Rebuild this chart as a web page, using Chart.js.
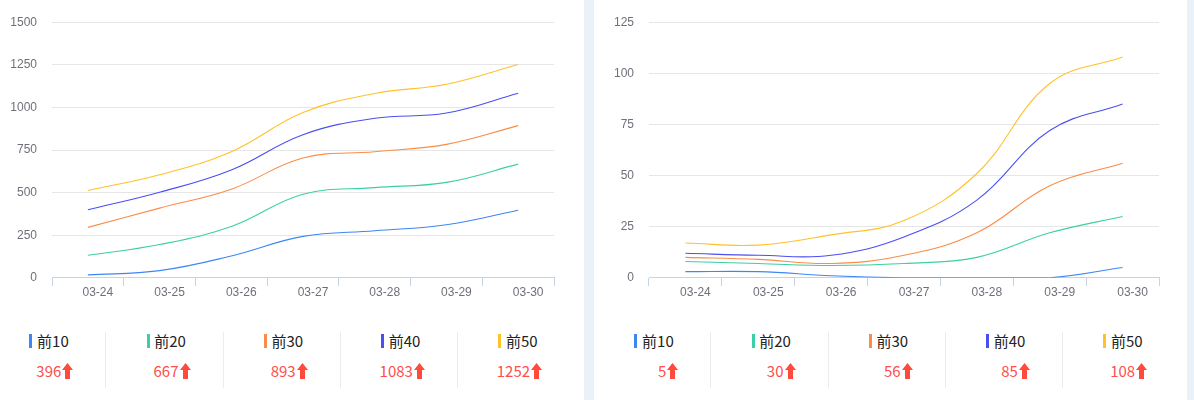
<!DOCTYPE html>
<html>
<head>
<meta charset="utf-8">
<script src="https://cdn.jsdelivr.net/npm/chart.js@4.4.0/dist/chart.umd.min.js"></script>
<style>
  html, body { margin: 0; padding: 0; }
  body { width: 1194px; height: 400px; background: #ebf1f8; position: relative; overflow: hidden; }
  .panel { position: absolute; top: 0; height: 400px; background: #ffffff; }
  canvas { position: absolute; top: 0; }
  .leg { position: absolute; font-family: "Noto Sans CJK SC", "Noto Sans", sans-serif; }
  .bar { position: absolute; width: 3px; height: 14px; top: 334px; }
  .lab { position: absolute; top: 330px; font-size: 15px; line-height: 22px; color: #222; white-space: nowrap; }
  .val { position: absolute; top: 360px; font-size: 15px; line-height: 22px; color: #ff4d4d; white-space: nowrap; text-align: right; display: flex; align-items: center; }
  .val svg { margin-left: 1px; }
  .sep { position: absolute; top: 332px; width: 1px; height: 56px; background: #ececec; }
</style>
</head>
<body>
<div class="panel" style="left:0;width:584px;"></div>
<div class="panel" style="left:594px;width:593px;"></div>
<canvas id="c1" width="584" height="300" style="left:0;width:584px;height:300px;"></canvas>
<canvas id="c2" width="593" height="300" style="left:594px;width:593px;height:300px;"></canvas>
<div id="legends"></div>
<script>
const categories = ['03-24', '03-25', '03-26', '03-27', '03-28', '03-29', '03-30'];
const seriesNames = ['前10', '前20', '前30', '前40', '前50'];

// left panel
const top10A = [17, 42, 128, 243, 276, 311, 396];
const top20A = [132, 195, 301, 490, 529, 560, 667];
const top30A = [296, 409, 520, 703, 740, 783, 893];
const top40A = [399, 502, 633, 840, 936, 967, 1083];
const top50A = [512, 605, 740, 970, 1082, 1136, 1252];
const yTicksA = [0, 250, 500, 750, 1000, 1250, 1500];

// right panel
const top10B = [3, 3, 1, 0, 0, 0, 5];
const top20B = [8, 7, 6, 7, 10, 22, 30];
const top30B = [10, 9, 7, 11, 22, 45, 56];
const top40B = [12, 11, 11, 20, 38, 72, 85];
const top50B = [17, 16, 21, 28, 51, 95, 108];
const yTicksB = [0, 25, 50, 75, 100, 125];

const colors = ['#3d87f5', '#3ccfa5', '#fb8c48', '#4c4ff0', '#ffc22a'];

function makeChart(id, series, yTicks, yWidth, padRight) {
  const ctx = document.getElementById(id);
  return new Chart(ctx, {
    type: 'line',
    data: {
      labels: categories,
      datasets: series.map((d, i) => ({
        label: seriesNames[i],
        data: d,
        borderColor: colors[i],
        backgroundColor: colors[i],
        borderWidth: 1.1,
        pointRadius: 0,
        pointHoverRadius: 0,
        tension: 0.4,
        fill: false
      }))
    },
    options: {
      responsive: false,
      animation: false,
      devicePixelRatio: 1,
      layout: { padding: { top: 21, right: padRight, bottom: 0, left: 0 } },
      plugins: { legend: { display: false }, tooltip: { enabled: false } },
      scales: {
        x: {
          type: 'category',
          offset: true,
          border: { display: true, color: '#c6d3e6', width: 1 },
          grid: { offset: true, drawOnChartArea: false, drawTicks: true, tickLength: 8, color: '#c6d3e6' },
          ticks: { color: '#6e7079', font: { family: 'Liberation Sans', size: 12 }, padding: 0, labelOffset: 10, maxRotation: 0, autoSkip: false },
          afterFit: s => { s.height = 22; }
        },
        y: {
          min: yTicks[0],
          max: yTicks[yTicks.length - 1],
          afterBuildTicks: s => { s.ticks = yTicks.map(v => ({ value: v })); },
          border: { display: false },
          grid: { color: '#e6e6e6', drawTicks: false, tickLength: 0 },
          ticks: { color: '#6e7079', font: { family: 'Liberation Sans', size: 12 }, padding: 15, callback: v => String(v) },
          afterFit: s => { s.width = yWidth; }
        }
      }
    }
  });
}

makeChart('c1', [top10A, top20A, top30A, top40A, top50A], yTicksA, 52, 30);
makeChart('c2', [top10B, top20B, top30B, top40B, top50B], yTicksB, 55, 28);

const arrowSvg = '<svg width="11" height="16" viewBox="0 0 11 16"><polygon points="5.5,0 11,7 8,7 8,16 3,16 3,7 0,7" fill="#ff4a3d"/></svg>';

function makeLegend(startX, series) {
  const host = document.getElementById('legends');
  const cw = 117.2;
  series.forEach((d, i) => {
    const left = startX + cw * i;
    const bar = document.createElement('div');
    bar.className = 'bar';
    bar.style.left = (left + 41.2) + 'px';
    bar.style.background = colors[i];
    host.appendChild(bar);
    const lab = document.createElement('div');
    lab.className = 'leg lab';
    lab.style.left = (left + 49) + 'px';
    lab.textContent = seriesNames[i];
    host.appendChild(lab);
    const val = document.createElement('div');
    val.className = 'leg val';
    val.style.right = (1194 - (left + 85.2)) + 'px';
    val.innerHTML = '<span>' + d[d.length - 1] + '</span>' + arrowSvg;
    host.appendChild(val);
    if (i > 0) {
      const sep = document.createElement('div');
      sep.className = 'sep';
      sep.style.left = Math.round(left) + 'px';
      host.appendChild(sep);
    }
  });
}
makeLegend(-11.9, [top10A, top20A, top30A, top40A, top50A]);
makeLegend(593.1, [top10B, top20B, top30B, top40B, top50B]);
</script>
</body>
</html>
